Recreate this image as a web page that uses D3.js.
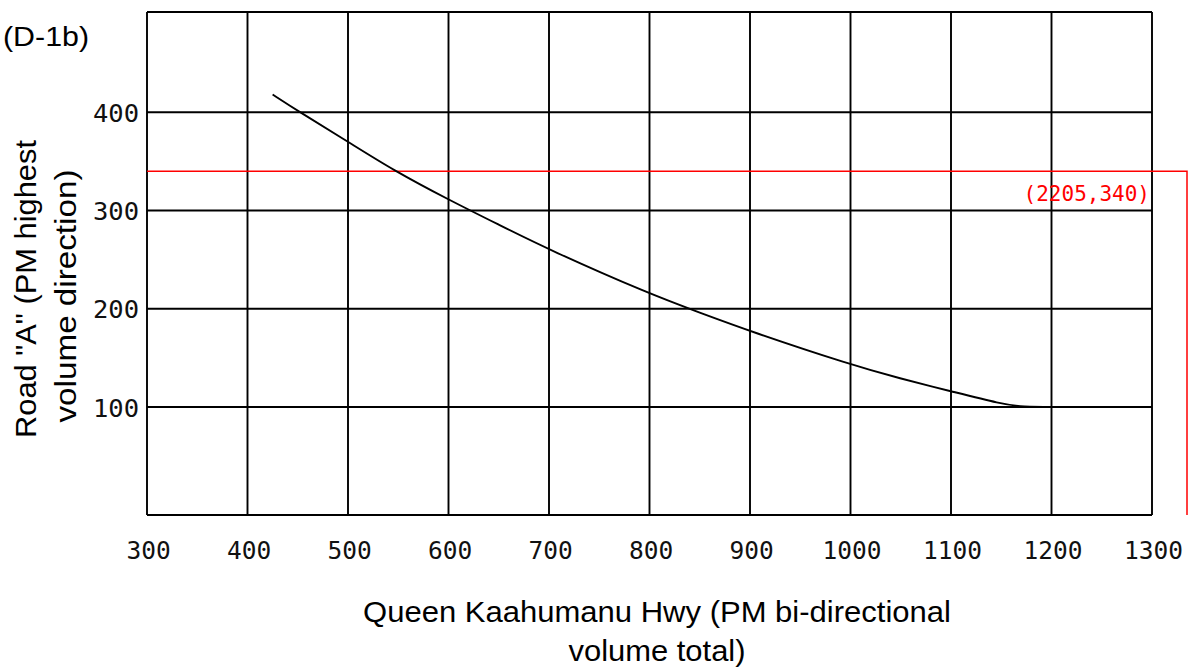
<!DOCTYPE html>
<html>
<head>
<meta charset="utf-8">
<script src="https://cdn.jsdelivr.net/npm/d3@7"></script>
<style>
  html, body { margin: 0; padding: 0; background: #fff; }
  svg { display: block; }
</style>
</head>
<body>
<svg id="chart" width="1188" height="669"></svg>
<script>
// ---- data ----
const xTicks = [300, 400, 500, 600, 700, 800, 900, 1000, 1100, 1200, 1300];
const yTicks = [100, 200, 300, 400];
const curveX = [425, 452, 500, 545, 600, 651, 700, 800, 850, 900, 1000, 1049, 1100, 1150, 1172, 1200, 1300];
const curveY = [418, 400, 370, 341, 311, 285, 260, 215, 196, 177, 143, 129, 116, 103, 100, 100, 100];
const refPoint = [2205, 340];
const refLabel = "(2205,340)";
const chartTag = "(D-1b)";
const xTitleLines = ["Queen Kaahumanu Hwy (PM bi-directional", "volume total)"];
const yTitleLines = ["Road \"A\" (PM highest", "volume direction)"];

// ---- layout ----
const svg = d3.select("#chart");
const mLeft = 147, mRight = 1152, mTop = 12, mBottom = 515;
const x = d3.scaleLinear().domain([300, 1300]).range([mLeft, mRight]);
const y = d3.scaleLinear().domain([-10, 502]).range([mBottom, mTop]);
const tickFont = "'DejaVu Sans Mono', monospace";
const textFont = "'Liberation Sans', Arial, sans-serif";

// grid: vertical lines at x ticks
svg.append("g").selectAll("line").data(xTicks).join("line")
  .attr("x1", d => x(d)).attr("x2", d => x(d))
  .attr("y1", mTop).attr("y2", mBottom)
  .attr("stroke", "#000").attr("stroke-width", 1.9);

// grid: horizontal lines at y ticks + top/bottom borders
const hLines = [y.domain()[0], ...yTicks, y.domain()[1]];
svg.append("g").selectAll("line").data(hLines).join("line")
  .attr("x1", mLeft).attr("x2", mRight)
  .attr("y1", d => y(d)).attr("y2", d => y(d))
  .attr("stroke", "#000").attr("stroke-width", 1.9);

// axes labels via d3 axes (domain/tick lines hidden)
const xAxis = svg.append("g").attr("transform", `translate(0,${mBottom})`)
  .call(d3.axisBottom(x).tickValues(xTicks).tickSize(0).tickPadding(44).tickFormat(d3.format("d")));
xAxis.select(".domain").remove();
xAxis.selectAll("text").attr("font-family", tickFont).attr("font-size", 24.5).attr("fill", "#111").attr("dy", 0)
  .attr("dx", 1);

const yAxis = svg.append("g").attr("transform", `translate(${mLeft},0)`)
  .call(d3.axisLeft(y).tickValues(yTicks).tickSize(0).tickPadding(8).tickFormat(d3.format("d")));
yAxis.select(".domain").remove();
yAxis.selectAll("text").attr("font-family", tickFont).attr("font-size", 25.5).attr("fill", "#111").attr("dy", "0.36em");

// red reference line
const extendX = 1187; // where the off-scale reference is drawn
svg.append("path")
  .attr("d", `M${mLeft},${y(refPoint[1])}H${extendX}V${mBottom}`)
  .attr("fill", "none").attr("stroke", "#ff0000").attr("stroke-width", 1.5);
svg.append("text")
  .attr("x", 1150).attr("y", y(refPoint[1]) + 30)
  .attr("text-anchor", "end")
  .attr("font-family", tickFont).attr("font-size", 21)
  .attr("fill", "#ff0000")
  .text(refLabel);

// curve
const pts = curveX.map((d, i) => [d, curveY[i]]);
svg.append("path")
  .datum(pts)
  .attr("d", d3.line().x(d => x(d[0])).y(d => y(d[1])).curve(d3.curveBasis))
  .attr("fill", "none").attr("stroke", "#000").attr("stroke-width", 1.9);

// tag
svg.append("text").attr("x", 3).attr("y", 46)
  .attr("font-family", textFont).attr("font-size", 28).attr("fill", "#000")
  .attr("textLength", 86).attr("lengthAdjust", "spacingAndGlyphs")
  .text(chartTag);

// x title
const xtWidths = [588, 177];
svg.append("g").selectAll("text").data(xTitleLines).join("text")
  .attr("x", 657).attr("y", (d, i) => 622 + i * 39)
  .attr("text-anchor", "middle")
  .attr("font-family", textFont).attr("font-size", 29).attr("fill", "#000")
  .attr("textLength", (d, i) => xtWidths[i]).attr("lengthAdjust", "spacingAndGlyphs")
  .text(d => d);

// y title
const ytWidths = [298, 253];
svg.append("g").selectAll("text").data(yTitleLines).join("text")
  .attr("transform", (d, i) => `translate(${36 + i * 40},${i === 0 ? 289 : 296}) rotate(-90)`)
  .attr("text-anchor", "middle")
  .attr("font-family", textFont).attr("font-size", 30).attr("fill", "#000")
  .attr("textLength", (d, i) => ytWidths[i]).attr("lengthAdjust", "spacingAndGlyphs")
  .text(d => d);
</script>
</body>
</html>
